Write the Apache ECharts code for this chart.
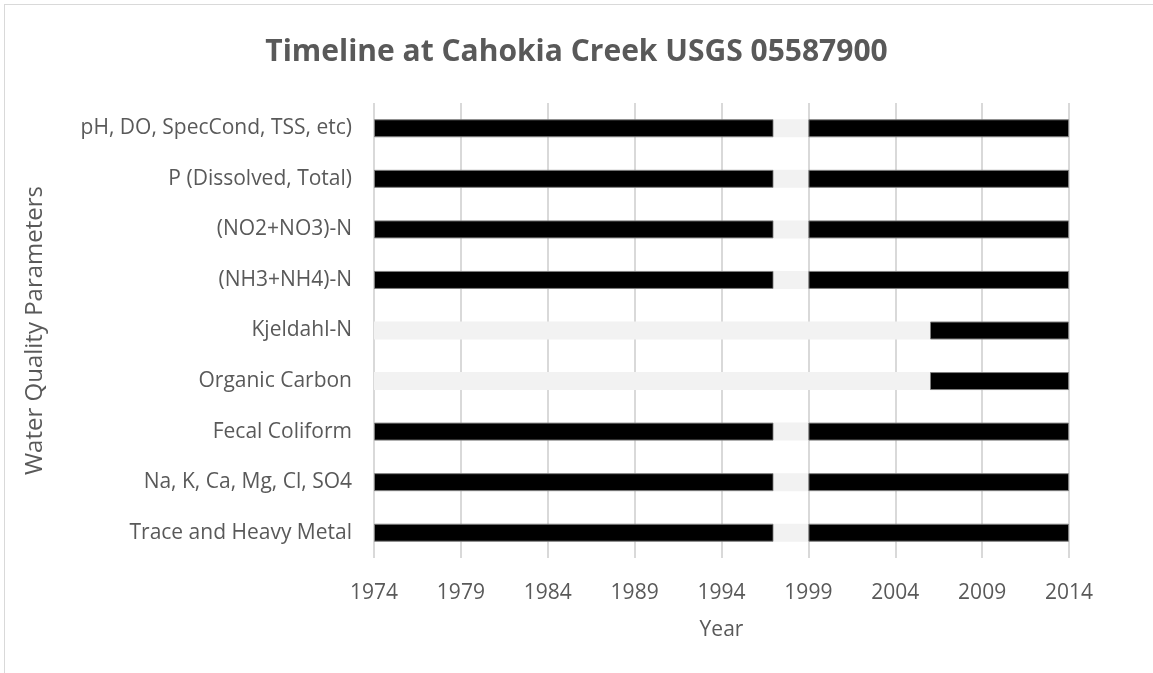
<!DOCTYPE html>
<html>
<head>
<meta charset="utf-8">
<script src="https://cdn.jsdelivr.net/npm/echarts@6/dist/echarts.min.js"></script>
<style>
  html, body { margin: 0; padding: 0; background: #fff; }
  #frame { position: absolute; left: 4px; top: 4px; width: 1160px; height: 680px; border: 1px solid #d9d9d9; box-sizing: border-box; }
  #chart { position: absolute; left: 0; top: 0; width: 1153px; height: 673px; }
</style>
</head>
<body>
<div id="frame"></div>
<div id="chart"></div>
<script>
// Parameters, listed bottom-to-top as the category axis draws them
const parameters = [
  'Trace and Heavy Metal',
  'Na, K, Ca, Mg, Cl, SO4',
  'Fecal Coliform',
  'Organic Carbon',
  'Kjeldahl-N',
  '(NH3+NH4)-N',
  '(NO2+NO3)-N',
  'P (Dissolved, Total)',
  'pH, DO, SpecCond, TSS, etc)'
];

// Year the record begins (axis start)
const recordStart = [1974, 1974, 1974, 1974, 1974, 1974, 1974, 1974, 1974];
// Years of sampling before the gap
const sampledEarly = [23, 23, 23, 0, 0, 23, 23, 23, 23];
// Years without sampling
const gapYears = [2, 2, 2, 32, 32, 2, 2, 2, 2];
// Years of sampling after the gap (through 2014)
const sampledLate = [15, 15, 15, 8, 8, 15, 15, 15, 15];

const yearTicks = [1974, 1979, 1984, 1989, 1994, 1999, 2004, 2009, 2014];

const font = '"Open Sans", "Liberation Sans", sans-serif';
const textColor = '#595959';

// empty segments are left out so they draw no outline
const segment = arr => arr.map(v => (v === 0 ? '-' : v));

const chart = echarts.init(document.getElementById('chart'));
const activeStyle = { color: '#000000', borderColor: '#7f7f7f', borderWidth: 1 };
const gapStyle = { color: '#f2f2f2' };

chart.setOption({
  animation: false,
  title: {
    text: 'Timeline at Cahokia Creek USGS 05587900',
    left: 'center',
    top: 32,
    textStyle: { fontFamily: font, fontSize: 30, fontWeight: 'bold', color: textColor }
  },
  grid: { left: 374, right: 84, top: 103, bottom: 115, containLabel: false },
  xAxis: {
    type: 'value',
    min: yearTicks[0],
    max: yearTicks[yearTicks.length - 1],
    interval: 5,
    name: 'Year',
    nameLocation: 'middle',
    nameGap: 62,
    nameTextStyle: { fontFamily: font, fontSize: 21, color: textColor },
    axisLine: { show: false },
    axisTick: { show: false },
    axisLabel: { fontFamily: font, fontSize: 21, color: textColor, margin: 25, formatter: v => String(v) },
    splitLine: { show: true, lineStyle: { color: '#d9d9d9', width: 2 } }
  },
  yAxis: {
    type: 'category',
    data: parameters,
    name: 'Water Quality Parameters',
    nameLocation: 'middle',
    nameGap: 327,
    nameRotate: 90,
    nameTextStyle: { fontFamily: font, fontSize: 24, color: textColor },
    axisLine: { show: false },
    axisTick: { show: false },
    axisLabel: { fontFamily: font, fontSize: 21, color: textColor, margin: 22 }
  },
  series: [
    {
      name: 'base', type: 'bar', stack: 'timeline', data: recordStart,
      itemStyle: { color: 'transparent' }, silent: true, barWidth: 18
    },
    { name: 'Sampled', type: 'bar', stack: 'timeline', data: segment(sampledEarly), itemStyle: activeStyle, barWidth: 18 },
    { name: 'Gap', type: 'bar', stack: 'timeline', data: segment(gapYears), itemStyle: gapStyle, barWidth: 18 },
    { name: 'Sampled ', type: 'bar', stack: 'timeline', data: segment(sampledLate), itemStyle: activeStyle, barWidth: 18 }
  ]
});
</script>
</body>
</html>
